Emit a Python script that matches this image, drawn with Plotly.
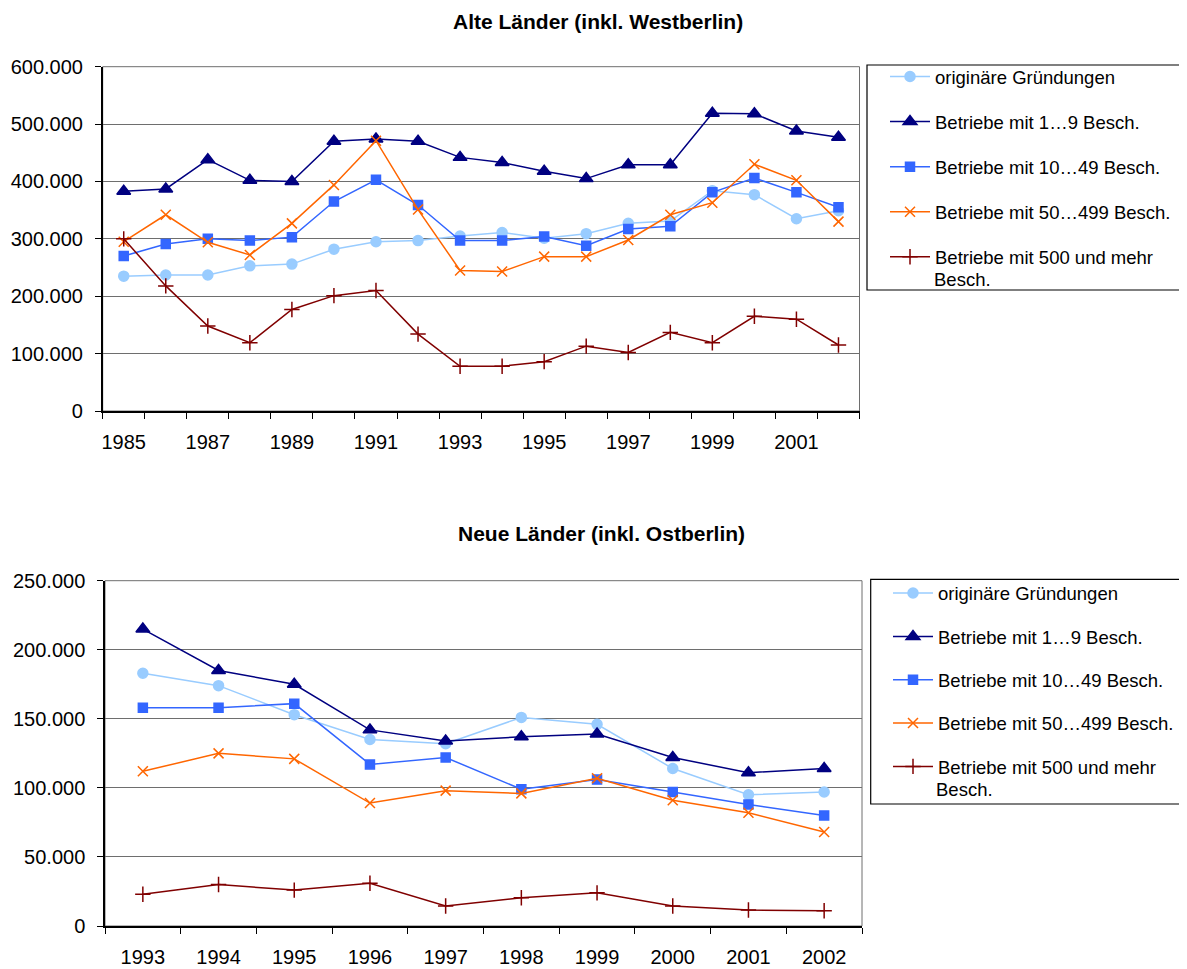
import plotly.graph_objects as go

# ---------------- data ----------------
years_west = list(range(1985, 2003))
years_east = list(range(1993, 2003))

series_names = [
    "originäre Gründungen",
    "Betriebe mit 1…9 Besch.",
    "Betriebe mit 10…49 Besch.",
    "Betriebe mit 50…499 Besch.",
    "Betriebe mit 500 und mehr",
]
last_name_cont = "Besch."

west_orig = [235000, 237000, 237000, 253000, 256000, 282000, 295000, 297000, 305000,
             311000, 301000, 309000, 327000, 331000, 384000, 377000, 335000, 349000]
west_1_9 = [383000, 387000, 438000, 402000, 400000, 470000, 474000, 470000, 442000,
            433000, 418000, 405000, 429000, 429000, 519000, 518000, 488000, 477000]
west_10_49 = [270000, 291000, 300000, 297000, 303000, 365000, 403000, 359000, 297000,
              297000, 304000, 288000, 317000, 322000, 381000, 406000, 381000, 355000]
west_50_499 = [295000, 342000, 294000, 272000, 327000, 394000, 471000, 351000, 245000,
               243000, 269000, 269000, 298000, 342000, 363000, 430000, 402000, 330000]
west_500 = [300000, 218000, 148000, 119000, 177000, 201000, 210000, 134000, 78000,
            78000, 86000, 113000, 102000, 137000, 119000, 165000, 160000, 115000]

east_orig = [183000, 174000, 153000, 135000, 132000, 151000, 146000, 114000, 95000, 97000]
east_1_9 = [215000, 185000, 175000, 142000, 134000, 137000, 139000, 122000, 111000, 114000]
east_10_49 = [158000, 158000, 161000, 117000, 122000, 99000, 106000, 97000, 88000, 80000]
east_50_499 = [112000, 125000, 121000, 89000, 98000, 96000, 107000, 91000, 82000, 68000]
east_500 = [23000, 30000, 26000, 31000, 14500, 20500, 24000, 14500, 11600, 11000]

west_tick_years = list(range(1985, 2002, 2))
east_tick_years = years_east

# ---------------- styles ----------------
colors = ["#99CCFF", "#000080", "#3366FF", "#FF6600", "#800000"]
symbols = ["circle", "triangle-up", "square", "x-thin-open", "cross-thin-open"]
msizes = [10, 12, 9, 10, 11]
FONT = "Liberation Sans, Arial, sans-serif"
GRID = "#6e6e6e"

fig = go.Figure()

west = [west_orig, west_1_9, west_10_49, west_50_499, west_500]
east = [east_orig, east_1_9, east_10_49, east_50_499, east_500]

for i, (name, vals) in enumerate(zip(series_names, west)):
    fig.add_trace(go.Scatter(
        x=years_west, y=vals, name=name, mode="lines+markers",
        line=dict(color=colors[i], width=1.5),
        marker=dict(symbol=symbols[i], size=msizes[i], color=colors[i],
                    line=dict(color=colors[i], width=1.5)),
        xaxis="x", yaxis="y", legend="legend", legendgroup="w%d" % i,
    ))

for i, (name, vals) in enumerate(zip(series_names, east)):
    fig.add_trace(go.Scatter(
        x=years_east, y=vals, name=name, mode="lines+markers",
        line=dict(color=colors[i], width=1.5),
        marker=dict(symbol=symbols[i], size=msizes[i], color=colors[i],
                    line=dict(color=colors[i], width=1.5)),
        xaxis="x2", yaxis="y2", legend="legend2", legendgroup="e%d" % i,
    ))

# page has an 8px body margin: figure is sized to fit the window exactly
OFF = 8
W, H = 1187 - OFF, 969 - OFF


def px_x(v):
    return (v - OFF) / W


def px_y(v):
    return 1 - (v - OFF) / H


xcommon = dict(
    showgrid=False, zeroline=False, showline=True, linecolor="black", linewidth=1.5,
    ticks="", tickfont=dict(family=FONT, size=20, color="black"),
    ticklabelstandoff=12, fixedrange=True, automargin=False,
)
ycommon = dict(
    showgrid=True, gridcolor=GRID, gridwidth=1, zeroline=False,
    showline=True, linecolor="black", linewidth=1.5,
    ticks="outside", ticklen=6, tickcolor="black", tickwidth=1,
    tickformat=",.0f", tickfont=dict(family=FONT, size=20, color="black"),
    ticklabelstandoff=8, fixedrange=True, automargin=False,
)

LEGFONT = dict(family=FONT, size=18.5, color="black")
legcommon = dict(
    xanchor="left", yanchor="top", font=LEGFONT,
    bgcolor="rgba(0,0,0,0)", borderwidth=0,
    traceorder="grouped", itemwidth=40, valign="top",
)

fig.update_layout(
    width=W, height=H, autosize=False,
    margin=dict(l=0, r=0, t=0, b=0, autoexpand=False),
    paper_bgcolor="white", plot_bgcolor="white",
    separators=",.",
    xaxis=dict(domain=[px_x(102.7), px_x(859.5)], anchor="y",
               range=[1984.5, 2002.5], tickvals=west_tick_years,
               minor=dict(tickvals=[y - 0.5 for y in years_west] + [years_west[-1] + 0.5],
                          ticks="outside", ticklen=6, tickcolor="black", tickwidth=1,
                          showgrid=False),
               **xcommon),
    yaxis=dict(domain=[px_y(411), px_y(66.7)], anchor="x",
               range=[0, 600000], dtick=100000, **ycommon),
    xaxis2=dict(domain=[px_x(105), px_x(862)], anchor="y2",
                range=[1992.5, 2002.5], tickvals=east_tick_years,
                minor=dict(tickvals=[y - 0.5 for y in years_east] + [years_east[-1] + 0.5],
                           ticks="outside", ticklen=6, tickcolor="black", tickwidth=1,
                           showgrid=False),
                **xcommon),
    yaxis2=dict(domain=[px_y(926), px_y(580.7)], anchor="x2",
                range=[0, 250000], dtick=50000, **ycommon),
    legend=dict(x=px_x(885), y=px_y(58), tracegroupgap=18, **legcommon),
    legend2=dict(x=px_x(888), y=px_y(574.5), tracegroupgap=16.3, **legcommon),
    showlegend=True,
)

# plot-area frames (gray) and legend frames (black)
shapes = [
    dict(type="rect", xref="x domain", yref="y domain", x0=0, x1=1, y0=0, y1=1,
         line=dict(color=GRID, width=1), layer="below"),
    dict(type="rect", xref="x2 domain", yref="y2 domain", x0=0, x1=1, y0=0, y1=1,
         line=dict(color=GRID, width=1), layer="below"),
    dict(type="rect", xref="paper", yref="paper", x0=px_x(867), x1=px_x(1195),
         y0=px_y(290), y1=px_y(65), line=dict(color="black", width=1.2)),
    dict(type="rect", xref="paper", yref="paper", x0=px_x(870.7), x1=px_x(1195),
         y0=px_y(804), y1=px_y(579.3), line=dict(color="black", width=1.2)),
]
fig.update_layout(shapes=shapes)

# continuation line of the last legend entry
fig.add_annotation(text=last_name_cont, xref="paper", yref="paper",
                   x=px_x(932.5), y=px_y(279), xanchor="left", yanchor="middle",
                   showarrow=False, font=LEGFONT, borderpad=0)
fig.add_annotation(text=last_name_cont, xref="paper", yref="paper",
                   x=px_x(935), y=px_y(789), xanchor="left", yanchor="middle",
                   showarrow=False, font=LEGFONT, borderpad=0)

fig.add_annotation(text="<b>Alte Länder (inkl. Westberlin)</b>", xref="paper", yref="paper",
                   x=px_x(598), y=px_y(21), xanchor="center", yanchor="middle",
                   showarrow=False, font=dict(family=FONT, size=21, color="black"))
fig.add_annotation(text="<b>Neue Länder (inkl. Ostberlin)</b>", xref="paper", yref="paper",
                   x=px_x(601), y=px_y(533), xanchor="center", yanchor="middle",
                   showarrow=False, font=dict(family=FONT, size=21, color="black"))

fig.write_html("out.html")
